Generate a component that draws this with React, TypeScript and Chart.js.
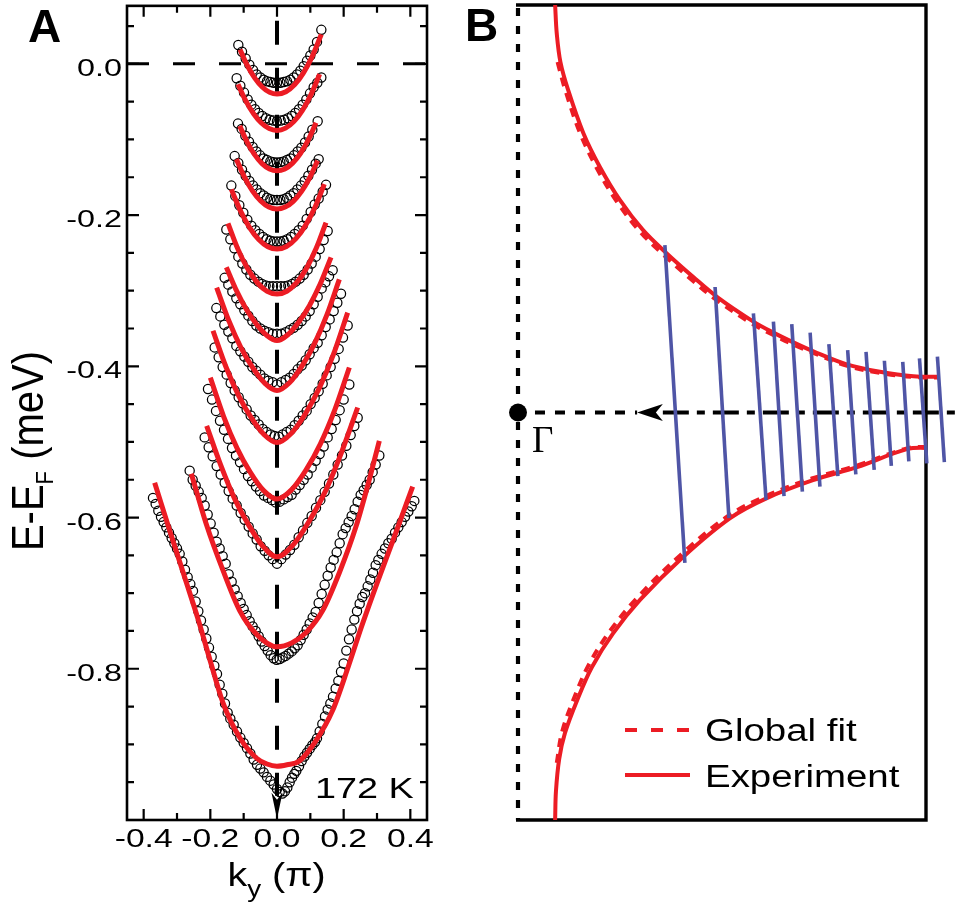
import React, { useEffect, useRef } from 'react';
import { Chart, registerables } from 'chart.js';
Chart.register(...registerables);

const RED = '#ec1c24';
const BLUE = '#4f55a6';
const FONT = "'Liberation Sans', Arial, Helvetica, sans-serif";

// ---------------- Panel A : axes ----------------
const xTicks = [-0.4, -0.3, -0.2, -0.1, 0, 0.1, 0.2, 0.3, 0.4];
const xTickLabels = ['-0.4', '', '-0.2', '', '0.0', '', '0.2', '', '0.4'];
const yTicks = [0.05, 0, -0.05, -0.1, -0.15, -0.2, -0.25, -0.3, -0.35, -0.4, -0.45, -0.5, -0.55, -0.6, -0.65, -0.7, -0.75, -0.8, -0.85, -0.9, -0.95];
const yMajorTicks = [0, -0.2, -0.4, -0.6, -0.8];
const yTickLabels = ['0.0', '-0.2', '-0.4', '-0.6', '-0.8'];

// ---------------- Panel A : fitted curves (k, E) ----------------
const red1 = [-0.111, 0.019, -0.089, -0.0022, -0.0666, -0.0188, -0.0444, -0.0306, -0.0222, -0.0376, 0, -0.040, 0.0266, -0.0368, 0.0532, -0.0274, 0.0798, -0.0116, 0.1064, 0.0106, 0.133, 0.039];
const red2 = [-0.117, -0.027, -0.0936, -0.049, -0.0702, -0.066, -0.0468, -0.0782, -0.0234, -0.0856, 0, -0.088, 0.0256, -0.085, 0.0512, -0.0761, 0.0768, -0.0612, 0.1024, -0.0404, 0.128, -0.0136];
const red3 = [-0.112, -0.082, -0.0896, -0.1034, -0.0672, -0.1201, -0.0448, -0.132, -0.0224, -0.1391, 0, -0.1415, 0.0234, -0.139, 0.0468, -0.1313, 0.0702, -0.1186, 0.0936, -0.1009, 0.117, -0.078];
const red4 = [-0.122, -0.126, -0.0976, -0.1498, -0.0732, -0.1682, -0.0488, -0.1814, -0.0244, -0.1894, 0, -0.192, 0.0244, -0.1894, 0.0488, -0.1818, 0.0732, -0.169, 0.0976, -0.151, 0.122, -0.128];
const red5 = [-0.137, -0.166, -0.1096, -0.1944, -0.0822, -0.2166, -0.0548, -0.2324, -0.0274, -0.2418, 0, -0.245, 0.0284, -0.2416, 0.0568, -0.2312, 0.0852, -0.214, 0.1136, -0.190, 0.142, -0.159];
const red6 = [-0.147, -0.211, -0.1176, -0.2447, -0.0882, -0.2708, -0.0588, -0.2895, -0.0294, -0.3008, 0, -0.3045, 0.0294, -0.3007, 0.0588, -0.2894, 0.0882, -0.2705, 0.1176, -0.244, 0.147, -0.210];
const red7 = [-0.152, -0.269, -0.1216, -0.300, -0.0912, -0.3253, -0.0608, -0.3447, -0.0304, -0.3592, 0, -0.366, 0.0324, -0.3583, 0.0648, -0.3418, 0.0972, -0.3198, 0.1296, -0.2912, 0.162, -0.256];
const red8 = [-0.181, -0.296, -0.1448, -0.3395, -0.1086, -0.3749, -0.0724, -0.4021, -0.0362, -0.4225, 0, -0.432, 0.0374, -0.4217, 0.0748, -0.3997, 0.1122, -0.3703, 0.1496, -0.332, 0.187, -0.285];
const red9 = [-0.192, -0.353, -0.1536, -0.4003, -0.1152, -0.4387, -0.0768, -0.4683, -0.0384, -0.4905, 0, -0.5008, 0.0424, -0.4888, 0.0848, -0.463, 0.1272, -0.4286, 0.1696, -0.384, 0.212, -0.329];
const red10 = [-0.200, -0.415, -0.16, -0.4664, -0.12, -0.5081, -0.08, -0.5403, -0.04, -0.5644, 0, -0.5756, 0.0434, -0.5634, 0.0868, -0.5373, 0.1302, -0.5025, 0.1736, -0.4573, 0.217, -0.4016];
const red11 = [-0.211, -0.4787, -0.1688, -0.5307, -0.1266, -0.5757, -0.0844, -0.6104, -0.0422, -0.6381, 0, -0.652, 0.0484, -0.6362, 0.0968, -0.6046, 0.1452, -0.5651, 0.1936, -0.5137, 0.242, -0.4545];
const red12 = [-0.257, -0.542, -0.212, -0.609, -0.162, -0.670, -0.112, -0.723, -0.062, -0.754, 0, -0.771, 0.044, -0.766, 0.0875, -0.752, 0.137, -0.723, 0.187, -0.673, 0.237, -0.612, 0.272, -0.558, 0.307, -0.4985];
const red13 = [-0.367, -0.554, -0.322, -0.617, -0.277, -0.679, -0.235, -0.737, -0.200, -0.790, -0.162, -0.845, -0.112, -0.891, -0.062, -0.918, -0.03, -0.926, 0, -0.929, 0.03, -0.927, 0.067, -0.922, 0.117, -0.895, 0.167, -0.855, 0.214, -0.797, 0.253, -0.745, 0.300, -0.687, 0.350, -0.628, 0.407, -0.559];

// ---------------- Panel A : measured points (k, E) ----------------
const dots1 = [-0.116, 0.025, -0.105, 0.016, -0.094, 0.007, -0.083, -0.001, -0.072, -0.008, -0.061, -0.014, -0.05, -0.018, -0.04, -0.021, -0.03, -0.023, -0.02, -0.024, -0.01, -0.025, 0, -0.025, 0.01, -0.025, 0.02, -0.024, 0.03, -0.023, 0.04, -0.021, 0.05, -0.018, 0.06, -0.014, 0.07, -0.009, 0.08, -0.003, 0.09, 0.004, 0.10, 0.011, 0.11, 0.019, 0.12, 0.029, 0.133, 0.045];
const dots2 = [-0.121, -0.019, -0.11, -0.029, -0.099, -0.038, -0.088, -0.047, -0.077, -0.054, -0.066, -0.060, -0.055, -0.065, -0.044, -0.069, -0.033, -0.072, -0.022, -0.074, -0.011, -0.075, 0, -0.076, 0.011, -0.075, 0.022, -0.074, 0.033, -0.072, 0.044, -0.069, 0.055, -0.065, 0.066, -0.060, 0.077, -0.054, 0.088, -0.047, 0.099, -0.039, 0.11, -0.031, 0.121, -0.025, 0.133, -0.018];
const dots3 = [-0.117, -0.079, -0.106, -0.086, -0.095, -0.095, -0.084, -0.103, -0.073, -0.110, -0.062, -0.116, -0.051, -0.121, -0.04, -0.125, -0.03, -0.127, -0.02, -0.129, -0.01, -0.130, 0, -0.1305, 0.01, -0.130, 0.02, -0.129, 0.03, -0.127, 0.04, -0.125, 0.051, -0.121, 0.062, -0.116, 0.073, -0.111, 0.084, -0.104, 0.095, -0.096, 0.106, -0.087, 0.122, -0.076];
const dots4 = [-0.127, -0.122, -0.116, -0.131, -0.105, -0.140, -0.094, -0.148, -0.083, -0.155, -0.072, -0.161, -0.061, -0.166, -0.05, -0.171, -0.04, -0.174, -0.03, -0.177, -0.02, -0.179, -0.01, -0.180, 0, -0.180, 0.01, -0.180, 0.02, -0.179, 0.03, -0.177, 0.04, -0.174, 0.05, -0.171, 0.061, -0.166, 0.072, -0.161, 0.083, -0.155, 0.094, -0.148, 0.105, -0.140, 0.116, -0.132, 0.125, -0.126];
const dots5 = [-0.137, -0.161, -0.125, -0.175, -0.113, -0.187, -0.101, -0.197, -0.089, -0.206, -0.077, -0.214, -0.065, -0.220, -0.053, -0.225, -0.042, -0.229, -0.031, -0.232, -0.02, -0.234, -0.01, -0.235, 0, -0.235, 0.01, -0.235, 0.02, -0.234, 0.031, -0.232, 0.042, -0.229, 0.053, -0.225, 0.065, -0.220, 0.077, -0.214, 0.089, -0.205, 0.101, -0.196, 0.113, -0.186, 0.125, -0.178, 0.137, -0.169, 0.147, -0.160];
const dots6 = [-0.152, -0.219, -0.14, -0.232, -0.128, -0.244, -0.116, -0.255, -0.104, -0.264, -0.092, -0.272, -0.08, -0.279, -0.068, -0.284, -0.056, -0.288, -0.045, -0.291, -0.034, -0.293, -0.023, -0.294, -0.012, -0.294, 0, -0.294, 0.012, -0.294, 0.023, -0.294, 0.034, -0.293, 0.045, -0.291, 0.056, -0.288, 0.068, -0.284, 0.08, -0.279, 0.092, -0.272, 0.104, -0.264, 0.116, -0.255, 0.128, -0.245, 0.14, -0.233, 0.152, -0.221];
const dots7 = [-0.157, -0.283, -0.146, -0.292, -0.134, -0.301, -0.122, -0.310, -0.110, -0.318, -0.098, -0.326, -0.086, -0.333, -0.074, -0.340, -0.062, -0.346, -0.050, -0.350, -0.038, -0.353, -0.026, -0.355, -0.013, -0.357, 0, -0.357, 0.013, -0.357, 0.026, -0.355, 0.038, -0.352, 0.050, -0.349, 0.062, -0.345, 0.074, -0.340, 0.086, -0.334, 0.098, -0.327, 0.110, -0.318, 0.122, -0.308, 0.134, -0.297, 0.145, -0.289, 0.156, -0.281, 0.167, -0.273];
const dots8 = [-0.182, -0.323, -0.17, -0.334, -0.158, -0.345, -0.146, -0.354, -0.134, -0.363, -0.122, -0.373, -0.110, -0.380, -0.098, -0.387, -0.086, -0.394, -0.074, -0.401, -0.062, -0.406, -0.050, -0.411, -0.038, -0.416, -0.026, -0.419, -0.013, -0.421, 0, -0.424, 0.013, -0.421, 0.026, -0.418, 0.038, -0.415, 0.05, -0.410, 0.062, -0.404, 0.074, -0.399, 0.086, -0.392, 0.098, -0.384, 0.11, -0.376, 0.122, -0.369, 0.134, -0.359, 0.146, -0.348, 0.158, -0.338, 0.17, -0.327, 0.181, -0.316, 0.192, -0.304];
const dots9 = [-0.187, -0.375, -0.175, -0.388, -0.163, -0.401, -0.151, -0.411, -0.139, -0.422, -0.127, -0.432, -0.115, -0.441, -0.103, -0.449, -0.091, -0.457, -0.079, -0.465, -0.067, -0.471, -0.055, -0.477, -0.043, -0.483, -0.031, -0.487, -0.019, -0.490, -0.007, -0.492, 0.005, -0.493, 0.017, -0.490, 0.029, -0.487, 0.041, -0.484, 0.053, -0.478, 0.065, -0.472, 0.077, -0.465, 0.089, -0.459, 0.101, -0.450, 0.113, -0.442, 0.125, -0.433, 0.137, -0.423, 0.149, -0.412, 0.161, -0.401, 0.173, -0.390, 0.185, -0.377, 0.198, -0.362, 0.212, -0.346];
const dots10 = [-0.207, -0.430, -0.195, -0.444, -0.183, -0.459, -0.171, -0.472, -0.159, -0.484, -0.147, -0.496, -0.135, -0.508, -0.123, -0.518, -0.111, -0.527, -0.099, -0.536, -0.087, -0.545, -0.075, -0.552, -0.063, -0.559, -0.051, -0.565, -0.039, -0.571, -0.027, -0.574, -0.015, -0.577, -0.004, -0.580, 0.008, -0.579, 0.02, -0.576, 0.032, -0.573, 0.044, -0.570, 0.056, -0.563, 0.068, -0.557, 0.08, -0.550, 0.092, -0.543, 0.104, -0.534, 0.116, -0.525, 0.128, -0.516, 0.14, -0.506, 0.152, -0.494, 0.164, -0.483, 0.176, -0.471, 0.188, -0.458, 0.2, -0.444, 0.217, -0.424];
const dots11 = [-0.217, -0.494, -0.205, -0.507, -0.193, -0.519, -0.181, -0.532, -0.169, -0.543, -0.157, -0.554, -0.145, -0.565, -0.133, -0.575, -0.121, -0.584, -0.109, -0.594, -0.097, -0.603, -0.085, -0.612, -0.073, -0.621, -0.061, -0.629, -0.049, -0.638, -0.037, -0.644, -0.025, -0.650, -0.013, -0.655, 0, -0.661, 0.013, -0.655, 0.026, -0.649, 0.039, -0.643, 0.052, -0.636, 0.065, -0.626, 0.078, -0.617, 0.091, -0.607, 0.104, -0.598, 0.117, -0.587, 0.13, -0.577, 0.143, -0.566, 0.156, -0.555, 0.169, -0.543, 0.182, -0.530, 0.195, -0.518, 0.208, -0.505, 0.221, -0.491, 0.232, -0.479, 0.242, -0.468];
const dots12 = [-0.262, -0.538, -0.253, -0.550, -0.244, -0.558, -0.235, -0.566, -0.226, -0.574, -0.217, -0.584, -0.208, -0.596, -0.199, -0.608, -0.190, -0.620, -0.181, -0.632, -0.172, -0.641, -0.163, -0.651, -0.154, -0.661, -0.145, -0.675, -0.136, -0.685, -0.127, -0.695, -0.118, -0.704, -0.109, -0.713, -0.100, -0.721, -0.091, -0.729, -0.082, -0.737, -0.073, -0.744, -0.064, -0.750, -0.055, -0.757, -0.046, -0.764, -0.037, -0.770, -0.028, -0.776, -0.019, -0.782, -0.010, -0.786, -0.001, -0.788, 0.008, -0.787, 0.017, -0.785, 0.026, -0.783, 0.035, -0.780, 0.044, -0.777, 0.053, -0.773, 0.062, -0.769, 0.071, -0.762, 0.080, -0.755, 0.089, -0.748, 0.098, -0.740, 0.107, -0.732, 0.116, -0.725, 0.125, -0.713, 0.134, -0.701, 0.143, -0.689, 0.152, -0.677, 0.161, -0.666, 0.170, -0.656, 0.179, -0.646, 0.188, -0.634, 0.197, -0.622, 0.206, -0.614, 0.215, -0.606, 0.224, -0.598, 0.233, -0.589, 0.242, -0.579, 0.251, -0.570, 0.260, -0.564, 0.269, -0.557, 0.278, -0.550, 0.287, -0.540, 0.296, -0.530, 0.307, -0.518];
const dots13 = [-0.372, -0.574, -0.364, -0.582, -0.356, -0.591, -0.348, -0.599, -0.340, -0.606, -0.332, -0.613, -0.324, -0.620, -0.316, -0.627, -0.308, -0.634, -0.300, -0.641, -0.292, -0.648, -0.284, -0.658, -0.276, -0.669, -0.268, -0.679, -0.260, -0.688, -0.252, -0.697, -0.244, -0.711, -0.236, -0.724, -0.228, -0.736, -0.220, -0.748, -0.212, -0.760, -0.204, -0.772, -0.196, -0.784, -0.188, -0.796, -0.180, -0.807, -0.172, -0.821, -0.164, -0.833, -0.156, -0.846, -0.148, -0.858, -0.140, -0.866, -0.130, -0.874, -0.120, -0.883, -0.110, -0.891, -0.100, -0.898, -0.090, -0.905, -0.080, -0.912, -0.070, -0.920, -0.060, -0.927, -0.050, -0.932, -0.040, -0.937, -0.030, -0.943, -0.020, -0.948, -0.010, -0.953, 0.000, -0.959, 0.008, -0.963, 0.016, -0.965, 0.024, -0.962, 0.031, -0.957, 0.038, -0.950, 0.045, -0.944, 0.052, -0.939, 0.058, -0.935, 0.066, -0.929, 0.074, -0.922, 0.082, -0.916, 0.090, -0.911, 0.098, -0.906, 0.106, -0.901, 0.114, -0.897, 0.120, -0.892, 0.128, -0.883, 0.136, -0.873, 0.144, -0.863, 0.152, -0.854, 0.160, -0.846, 0.168, -0.837, 0.176, -0.826, 0.184, -0.816, 0.192, -0.804, 0.200, -0.793, 0.208, -0.776, 0.216, -0.761, 0.224, -0.748, 0.232, -0.735, 0.240, -0.724, 0.248, -0.714, 0.256, -0.705, 0.264, -0.700, 0.272, -0.691, 0.280, -0.682, 0.288, -0.673, 0.296, -0.663, 0.304, -0.656, 0.314, -0.648, 0.324, -0.641, 0.334, -0.634, 0.344, -0.628, 0.354, -0.620, 0.364, -0.613, 0.374, -0.606, 0.384, -0.599, 0.394, -0.592, 0.404, -0.585, 0.412, -0.578];

const redCurves = [red1, red2, red3, red4, red5, red6, red7, red8, red9, red10, red11, red12, red13];
const dotCurves = [dots1, dots2, dots3, dots4, dots5, dots6, dots7, dots8, dots9, dots10, dots11, dots12, dots13];
const fermiLine = [-0.45, 0, 0.45, 0];
const cutLine = [0, 0.057, 0, -0.968];

// ---------------- Panel B (kx, ky; Gamma at 0,0) ----------------
const upperExp = [0.091, 1.0, 0.095, 0.93, 0.104, 0.86, 0.123, 0.791, 0.160, 0.686, 0.201, 0.602, 0.250, 0.521, 0.306, 0.448, 0.364, 0.391, 0.429, 0.333, 0.490, 0.282, 0.577, 0.223, 0.626, 0.196, 0.675, 0.172, 0.724, 0.150, 0.806, 0.118, 0.887, 0.100, 0.969, 0.089, 1.034, 0.088, 1.076, 0.091];
const upperFit = [0.097, 0.86, 0.116, 0.791, 0.152, 0.686, 0.193, 0.600, 0.242, 0.518, 0.298, 0.445, 0.357, 0.387, 0.422, 0.329, 0.484, 0.278, 0.572, 0.219, 0.622, 0.192, 0.672, 0.168, 0.722, 0.147, 0.805, 0.115, 0.887, 0.097, 0.969, 0.087, 1.034, 0.086, 1.076, 0.089];
const lowerExp = [0.091, -1.0, 0.093, -0.93, 0.101, -0.85, 0.115, -0.787, 0.145, -0.706, 0.181, -0.625, 0.233, -0.542, 0.299, -0.460, 0.404, -0.355, 0.520, -0.259, 0.610, -0.210, 0.723, -0.166, 0.831, -0.134, 0.953, -0.090, 1.002, -0.087, 1.066, -0.094];
const lowerFit = [0.095, -0.86, 0.108, -0.784, 0.137, -0.702, 0.173, -0.620, 0.225, -0.537, 0.292, -0.455, 0.398, -0.350, 0.515, -0.254, 0.606, -0.206, 0.720, -0.162, 0.829, -0.131, 0.953, -0.088, 1.002, -0.085, 1.066, -0.092];
const cutTopX = [0.360, 0.483, 0.577, 0.626, 0.671, 0.716, 0.762, 0.808, 0.853, 0.898, 0.943, 0.984, 1.028];
const cutTopY = [0.411, 0.308, 0.243, 0.223, 0.217, 0.196, 0.168, 0.153, 0.149, 0.127, 0.124, 0.133, 0.137];
const cutBotX = [0.409, 0.517, 0.608, 0.652, 0.697, 0.740, 0.784, 0.828, 0.873, 0.915, 0.958, 1.002, 1.045];
const cutBotY = [-0.369, -0.259, -0.215, -0.205, -0.194, -0.182, -0.156, -0.152, -0.141, -0.131, -0.120, -0.125, -0.122];
const gammaShort = [-0.0074, 0, 0.292, 0];
const gammaLong = [0.355, 0, 1.087, 0];

function pairs(a: number[]) {
  const r: { x: number; y: number }[] = [];
  for (let i = 0; i + 1 < a.length; i += 2) r.push({ x: a[i], y: a[i + 1] });
  return r;
}

function drawText(ctx: CanvasRenderingContext2D, s: string, x: number, y: number, size: number, sx = 1, align: CanvasTextAlign = 'left', weight = '', family = FONT) {
  ctx.save();
  ctx.translate(x, y);
  ctx.scale(sx, 1);
  ctx.font = `${weight} ${size}px ${family}`;
  ctx.textAlign = align;
  ctx.textBaseline = 'alphabetic';
  ctx.fillStyle = '#000';
  ctx.fillText(s, 0, 0);
  ctx.restore();
}

const panelAPlugin = {
  id: 'panelA',
  afterDraw(chart: any) {
    const { ctx, chartArea: ca, scales } = chart;
    const xs = scales.x, ys = scales.y;
    ctx.save();
    ctx.setLineDash([]);
    ctx.strokeStyle = '#000';
    ctx.lineWidth = 2.6;
    ctx.strokeRect(ca.left, ca.top, ca.right - ca.left, ca.bottom - ca.top);
    ctx.lineWidth = 2.2;
    ctx.beginPath();
    xTicks.forEach((v, i) => {
      const px = xs.getPixelForValue(v);
      const len = xTickLabels[i] ? 11 : 7;
      ctx.moveTo(px, ca.bottom); ctx.lineTo(px, ca.bottom - len);
      ctx.moveTo(px, ca.top); ctx.lineTo(px, ca.top + len);
    });
    yTicks.forEach((v) => {
      const py = ys.getPixelForValue(v);
      const len = yMajorTicks.includes(v) ? 12 : 7;
      ctx.moveTo(ca.left, py); ctx.lineTo(ca.left + len, py);
      ctx.moveTo(ca.right, py); ctx.lineTo(ca.right - len, py);
    });
    ctx.stroke();

    // arrow head at the end of the cut
    const ax = xs.getPixelForValue(0);
    const ay = ys.getPixelForValue(-0.9985);
    ctx.fillStyle = '#000';
    ctx.beginPath();
    ctx.moveTo(ax, ay);
    ctx.lineTo(ax - 5.5, ay - 26);
    ctx.lineTo(ax, ay - 19);
    ctx.lineTo(ax + 5.5, ay - 26);
    ctx.closePath();
    ctx.fill();

    // tick labels
    xTicks.forEach((v, i) => {
      if (!xTickLabels[i]) return;
      drawText(ctx, xTickLabels[i], xs.getPixelForValue(v), 847, 25.5, 1.32, 'center');
    });
    yMajorTicks.forEach((v, i) => {
      drawText(ctx, yTickLabels[i], 122, ys.getPixelForValue(v) + 12, 24.5, 1.32, 'right');
    });

    // x title  k_y (π)
    ctx.save();
    ctx.font = `34px ${FONT}`;
    const wk = ctx.measureText('k').width * 1.16;
    const wp = ctx.measureText(' (π)').width * 1.16;
    ctx.font = `24px ${FONT}`;
    const wy = ctx.measureText('y').width * 1.16;
    ctx.restore();
    const x0 = 276.5 - (wk + wy + wp) / 2;
    drawText(ctx, 'k', x0, 886, 34, 1.16);
    drawText(ctx, 'y', x0 + wk, 897, 24, 1.16);
    drawText(ctx, ' (π)', x0 + wk + wy, 886, 34, 1.16);

    // y title  E-E_F (meV)
    ctx.save();
    ctx.translate(43, 451);
    ctx.rotate(-Math.PI / 2);
    ctx.scale(1, 1.1);
    ctx.fillStyle = '#000';
    ctx.textBaseline = 'alphabetic';
    ctx.textAlign = 'left';
    ctx.font = `40px ${FONT}`;
    const w1 = ctx.measureText('E-E').width;
    const w3 = ctx.measureText(' (meV)').width;
    ctx.font = `22px ${FONT}`;
    const w2 = ctx.measureText('F').width;
    const s0 = -(w1 + w2 + w3) / 2;
    ctx.font = `40px ${FONT}`;
    ctx.fillText('E-E', s0, 0);
    ctx.font = `22px ${FONT}`;
    ctx.fillText('F', s0 + w1, 9);
    ctx.font = `40px ${FONT}`;
    ctx.fillText(' (meV)', s0 + w1 + w2, 0);
    ctx.restore();

    drawText(ctx, 'A', 28, 42, 46, 1, 'left', 'bold');
    drawText(ctx, '172 K', 315, 798, 30, 1.26);
    ctx.restore();
  },
};

const panelBPlugin = {
  id: 'panelB',
  beforeDatasetsDraw(chart: any) {
    const { ctx, chartArea: ca } = chart;
    ctx.save();
    ctx.strokeStyle = '#000';
    ctx.setLineDash([]);
    ctx.lineWidth = 3.4;
    ctx.beginPath();
    ctx.moveTo(ca.left - 2, ca.top); ctx.lineTo(ca.right, ca.top);
    ctx.lineTo(ca.right, ca.bottom); ctx.lineTo(ca.left - 2, ca.bottom);
    ctx.stroke();
    ctx.lineWidth = 4.2;
    ctx.setLineDash([8, 10]);
    ctx.beginPath();
    ctx.moveTo(ca.left, ca.top + 3); ctx.lineTo(ca.left, ca.bottom);
    ctx.stroke();
    ctx.restore();
  },
  afterDraw(chart: any) {
    const { ctx, scales } = chart;
    const xs = scales.x, ys = scales.y;
    ctx.save();
    ctx.fillStyle = '#000';
    const gx = xs.getPixelForValue(0), gy = ys.getPixelForValue(0);
    ctx.beginPath();
    ctx.arc(gx, gy, 9, 0, Math.PI * 2);
    ctx.fill();
    // arrow head pointing to Gamma
    const tx = xs.getPixelForValue(0.292);
    const bx = xs.getPixelForValue(0.355);
    ctx.beginPath();
    ctx.moveTo(tx, gy);
    ctx.lineTo(bx, gy - 8.5);
    ctx.lineTo(bx - 7, gy);
    ctx.lineTo(bx, gy + 8.5);
    ctx.closePath();
    ctx.fill();
    drawText(ctx, 'Γ', gx + 14, gy + 39, 37, 1, 'left', '', "'Liberation Serif', 'Times New Roman', serif");

    // legend
    const lx0 = 625 - 440, lx1 = 690 - 440;
    ctx.strokeStyle = RED;
    ctx.lineWidth = 4;
    ctx.setLineDash([12, 14]);
    ctx.beginPath(); ctx.moveTo(lx0, 730); ctx.lineTo(lx1, 730); ctx.stroke();
    ctx.setLineDash([]);
    ctx.beginPath(); ctx.moveTo(lx0, 775); ctx.lineTo(lx1, 775); ctx.stroke();
    drawText(ctx, 'Global fit', 705 - 440, 741, 31, 1.24);
    drawText(ctx, 'Experiment', 705 - 440, 787, 31, 1.24);
    drawText(ctx, 'B', 465 - 440, 41, 46, 1, 'left', 'bold');
    ctx.restore();
  },
};

function lineDs(data: number[], color: string, width: number, dash: number[], order: number, tension = 0, extra: any = {}) {
  return {
    data: pairs(data),
    showLine: true,
    borderColor: color,
    backgroundColor: color,
    borderWidth: width,
    borderDash: dash,
    borderCapStyle: 'butt',
    pointRadius: 0,
    pointHoverRadius: 0,
    tension,
    fill: false,
    order,
    ...extra,
  };
}

export default function App() {
  const refA = useRef<HTMLCanvasElement>(null);
  const refB = useRef<HTMLCanvasElement>(null);

  useEffect(() => {
    const dsA: any[] = [];
    redCurves.forEach((c) => dsA.push(lineDs(c, RED, 5, [], 0, 0, { cubicInterpolationMode: 'monotone' })));
    dsA.push(lineDs(fermiLine, '#000', 3, [22, 24], 1));
    dsA.push(lineDs(cutLine, '#000', 4, [24, 23], 1));
    dotCurves.forEach((c) =>
      dsA.push({
        data: pairs(c),
        showLine: false,
        pointRadius: 4.6,
        pointHoverRadius: 4.6,
        pointBorderWidth: 1.25,
        borderColor: '#000',
        backgroundColor: 'rgba(0,0,0,0)',
        pointStyle: 'circle',
        order: 2,
      })
    );

    const chartA = new Chart(refA.current as HTMLCanvasElement, {
      type: 'scatter',
      data: { datasets: dsA },
      options: {
        animation: false,
        responsive: false,
        devicePixelRatio: 1,
        events: [],
        layout: { padding: { left: 127, right: 53, top: 5, bottom: 88 } },
        scales: {
          x: { type: 'linear', min: -0.45, max: 0.45, display: false },
          y: { type: 'linear', min: -1.0, max: 0.0767, display: false },
        },
        plugins: { legend: { display: false }, tooltip: { enabled: false } },
      },
      plugins: [panelAPlugin],
    } as any);

    const dsB: any[] = [];
    for (let i = 0; i < cutTopX.length; i++) {
      dsB.push(lineDs([cutTopX[i], cutTopY[i], cutBotX[i], cutBotY[i]], BLUE, 3.6, [], 0, 0, { clip: false }));
    }
    dsB.push(lineDs(upperExp, RED, 4, [], 1, 0.35, { clip: false }));
    dsB.push(lineDs(lowerExp, RED, 4, [], 1, 0.35, { clip: false }));
    dsB.push(lineDs(upperFit, RED, 4, [9, 7], 2, 0.35, { clip: false }));
    dsB.push(lineDs(lowerFit, RED, 4, [9, 7], 2, 0.35, { clip: false }));
    dsB.push(lineDs(gammaShort, '#000', 4, [10, 10], 3, 0, { clip: false }));
    dsB.push(lineDs(gammaLong, '#000', 4, [26, 8, 8, 8], 3, 0, { clip: false }));

    const chartB = new Chart(refB.current as HTMLCanvasElement, {
      type: 'scatter',
      data: { datasets: dsB },
      options: {
        animation: false,
        responsive: false,
        devicePixelRatio: 1,
        events: [],
        layout: { padding: { left: 78, right: 34, top: 5, bottom: 88 } },
        scales: {
          x: { type: 'linear', min: 0, max: 1, display: false },
          y: { type: 'linear', min: -1, max: 1, display: false },
        },
        plugins: { legend: { display: false }, tooltip: { enabled: false } },
      },
      plugins: [panelBPlugin],
    } as any);

    return () => {
      chartA.destroy();
      chartB.destroy();
    };
  }, []);

  return (
    <div style={{ position: 'absolute', left: 0, top: 0, width: 960, height: 908, background: '#fff', overflow: 'hidden' }}>
      <canvas ref={refA} width={480} height={908} style={{ position: 'absolute', left: 0, top: 0, width: 480, height: 908 }} />
      <canvas ref={refB} width={520} height={908} style={{ position: 'absolute', left: 440, top: 0, width: 520, height: 908 }} />
    </div>
  );
}
